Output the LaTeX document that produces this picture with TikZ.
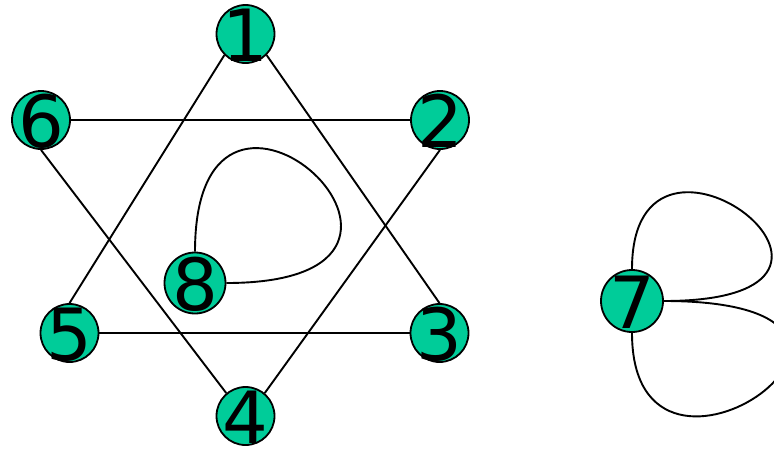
\documentclass[tikz,border=0pt]{standalone}
\usepackage{fontspec}
\usepackage{xcolor}
\usepackage{tikz}
\newfontfamily\vertexfont{DejaVu Sans}
\definecolor{vertexgreen}{RGB}{0,204,153}
% digit as a box of no size, so that the circle keeps its own size
\newcommand{\vdigit}[1]{\raisebox{-0.38em}[0pt][0pt]{\makebox[0pt]{#1}}}

\begin{document}
\begin{tikzpicture}[
  x=1pt, y=-1pt,
  vertex/.style={circle, draw, fill=vertexgreen, line width=1.8pt,
                 minimum size=58pt, inner sep=0pt,
                 font=\vertexfont\fontsize{72}{72}\selectfont},
  edge/.style={line width=1.9pt}
]
  \clip (0,0) rectangle (774,448);

  % star vertices
  \node[vertex] (n1) at (245.5,34)  {\vdigit{1}};
  \node[vertex] (n2) at (440,120)   {\vdigit{2}};
  \node[vertex] (n3) at (439.5,333) {\vdigit{3}};
  \node[vertex] (n4) at (245.5,416) {\vdigit{4}};
  \node[vertex] (n5) at (69.5,333)  {\vdigit{5}};
  \node[vertex] (n6) at (41,120)    {\vdigit{6}};

  % vertices with loops
  \node[vertex, minimum size=61pt] (n8) at (195,283) {\vdigit{8}};
  \node[vertex, minimum size=62pt] (n7) at (632,301) {\vdigit{7}};

  % the two triangles
  \draw[edge] (n1.south west) -- (n5.north);
  \draw[edge] (n1.south east) -- (n3.north);
  \draw[edge] (n5.east) -- (n3.west);
  \draw[edge] (n6.east) -- (n2.west);
  \draw[edge] (n6.south) -- (n4.130);
  \draw[edge] (n2.south) -- (n4.50);

  % loops
  \draw[edge] (n8.north) .. controls +(0,-250) and +(275,0) .. (n8.east);
  \draw[edge] (n7.north) .. controls +(0,-190) and +(260,0) .. (n7.east);
  \draw[edge] (n7.east) .. controls +(300,0) and +(0,205) .. (n7.south);
\end{tikzpicture}
\end{document}
